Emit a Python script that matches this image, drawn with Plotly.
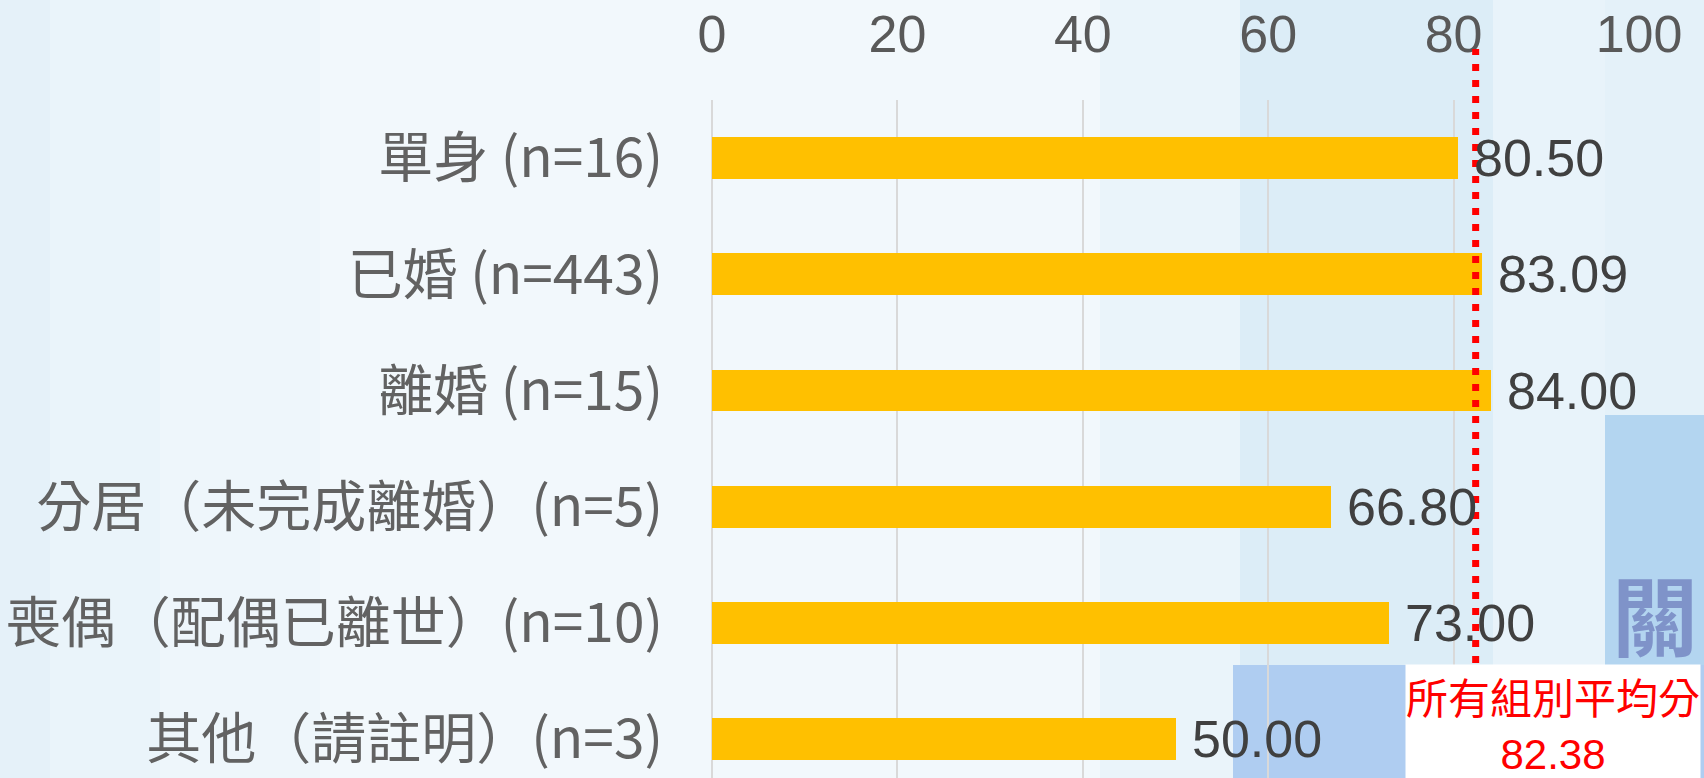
import plotly.graph_objects as go

# data
categories = [
    "單身 (n=16)",
    "已婚 (n=443)",
    "離婚 (n=15)",
    "分居（未完成離婚）(n=5)",
    "喪偶（配偶已離世）(n=10)",
    "其他（請註明）(n=3)",
]
scores = [80.50, 83.09, 84.00, 66.80, 73.00, 50.00]
overall_avg = 82.38
avg_label = "所有組別平均分"
x_ticks = [0, 20, 40, 60, 80, 100]

W, H = 1704, 778
L, R, T, B = 712, 65, 100, 0
PW, PH = W - L - R, H - T - B


def px(x):
    # figure pixel -> paper x
    return (x - L) / PW


def py(y):
    # figure pixel -> paper y
    return (H - B - y) / PH


fig = go.Figure()
fig.add_trace(go.Bar(
    y=categories, x=scores, orientation="h", width=0.36,
    marker=dict(color="#FFC000", line=dict(width=0)),
    hoverinfo="x+y",
))

# value labels to the right of bars
for c, v in zip(categories, scores):
    fig.add_annotation(
        x=v, y=c, xref="x", yref="y", text=f"{v:.2f}", showarrow=False,
        xanchor="left", xshift=14,
        font=dict(family="Liberation Sans, Arial", size=52, color="#404040"),
    )

# background decoration (slide template)
bands = [
    (0, 0, 50, 778, "#E5F1F9"),
    (50, 0, 160, 778, "#EAF4FA"),
    (160, 0, 320, 778, "#EEF6FB"),
    (320, 0, 1100, 778, "#F2F8FC"),
    (1100, 0, 1240, 778, "#EAF4FA"),
    (1240, 0, 1493, 778, "#DCEDF7"),
    (1493, 0, 1605, 778, "#E8F3FA"),
    (1605, 0, 1704, 415, "#E4F1F9"),
    (1605, 415, 1704, 778, "#B3D5F0"),
    (1233, 665, 1704, 778, "#AFCDF1"),
]
for x0, y0, x1, y1, col in bands:
    fig.add_shape(type="rect", xref="paper", yref="paper",
                  x0=px(x0), x1=px(x1), y0=py(y0), y1=py(y1),
                  fillcolor=col, line=dict(width=0), layer="below")
fig.add_annotation(
    xref="paper", yref="paper", x=px(1655), y=py(612), text="<b>關</b>",
    xanchor="center", yanchor="middle", showarrow=False,
    font=dict(family="Noto Sans CJK TC", size=86, color="#7F93C9"),
)

# overall average line
fig.add_shape(type="line", xref="x", yref="paper",
              x0=overall_avg, x1=overall_avg, y0=py(663), y1=py(49),
              line=dict(color="#FF0000", width=7, dash="7px,9px"))
fig.add_annotation(
    xref="paper", yref="paper", x=px(1553), y=py(664),
    xanchor="center", yanchor="top", showarrow=False,
    text=f"{avg_label}<br><span style='font-family:Liberation Sans, Arial'>{overall_avg:.2f}</span>",
    font=dict(family="Noto Sans CJK TC", size=42, color="#FF0000"),
    bgcolor="#FFFFFF", borderpad=0,
)

fig.update_xaxes(
    side="top", range=[0, 100], tickvals=x_ticks, showgrid=True,
    gridcolor="#D9D9D9", gridwidth=1.5, zeroline=True, zerolinecolor="#D9D9D9",
    zerolinewidth=1.5, showline=False, ticks="", ticklabelstandoff=37,
    tickfont=dict(family="Liberation Sans, Arial", size=52, color="#595959"),
    fixedrange=True,
)
band_px = 116.2
fig.update_yaxes(
    type="category", range=[-0.5 + PH / band_px, -0.5], showgrid=False,
    zeroline=False, showline=False, ticks="", ticklabelstandoff=48,
    tickfont=dict(family="Noto Sans CJK TC", size=55, color="#626262"),
    fixedrange=True,
)
fig.update_layout(
    width=W, height=H, margin=dict(l=L, r=R, t=T, b=B, autoexpand=False),
    paper_bgcolor="#F2F8FC", plot_bgcolor="rgba(0,0,0,0)",
    showlegend=False, bargap=0,
)

# page margin off so the figure fills the window exactly
fig.write_html(
    "out.html",
    config={"displayModeBar": False},
    post_script="document.body.style.margin='0';document.body.style.overflow='hidden';",
)
